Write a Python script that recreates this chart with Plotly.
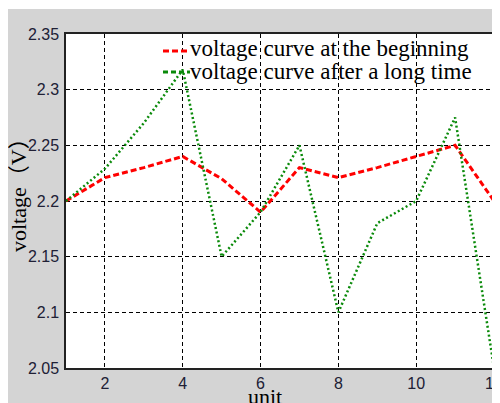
import plotly.graph_objects as go

units = [1, 2, 3, 4, 5, 6, 7, 8, 9, 10, 11, 12]
v_begin = [2.20, 2.221, 2.23, 2.24, 2.22, 2.19, 2.23, 2.221, 2.23, 2.24, 2.25, 2.20]
v_long = [2.20, 2.229, 2.27, 2.318, 2.15, 2.19, 2.25, 2.10, 2.18, 2.20, 2.275, 2.05]
names = ["voltage curve at the beginning", "voltage curve after a long time"]
x_ticks = [2, 4, 6, 8, 10, 12]
y_ticks = [2.05, 2.1, 2.15, 2.2, 2.25, 2.3, 2.35]
y_ticklabels = ["2.05", "2.1", "2.15", "2.2", "2.25", "2.3", "2.35"]

# page is shown with an 8px body margin, so the figure is sized to fit the window
OFF = 8
W, H = 500 - OFF, 403 - OFF
PL, PR, PT, PB = 66, 494, 34, 368  # plot box in window pixels
L, R, T, B = PL - OFF, W - (PR - OFF), PT - OFF, H - (PB - OFF)
pw, ph = PR - PL, PB - PT


def px(x):
    return (x - PL) / pw


def py(y):
    return (PB - y) / ph


fig = go.Figure()
fig.add_trace(go.Scatter(x=units, y=v_begin, mode="lines", name=names[0],
                         line=dict(color="#ff0000", width=3, dash="6px,3px")))
fig.add_trace(go.Scatter(x=units, y=v_long, mode="lines", name=names[1],
                         line=dict(color="#0a8a0a", width=2.5, dash="2px,2.5px")))

serif = "Liberation Serif, Times New Roman, Noto Sans CJK SC, serif"
tickfont = dict(family="Liberation Sans, Arial, sans-serif", size=16, color="#202035")

shapes = [
    dict(type="rect", xref="paper", yref="paper", x0=px(0), x1=px(520), y0=py(9), y1=py(420),
         fillcolor="#d4d4d4", line=dict(width=0), layer="below"),
    dict(type="rect", xref="paper", yref="paper", x0=0, x1=1, y0=0, y1=1,
         fillcolor="white", line=dict(width=0), layer="below"),
    dict(type="line", xref="paper", yref="paper", x0=px(163), x1=px(190), y0=py(51), y1=py(51),
         line=dict(color="#ff0000", width=3, dash="6px,3px")),
    dict(type="line", xref="paper", yref="paper", x0=px(163), x1=px(190), y0=py(72), y1=py(72),
         line=dict(color="#0a8a0a", width=3, dash="5px,3px")),
]

annotations = [
    dict(text=names[0], xref="paper", yref="paper", x=px(188), y=py(49), xanchor="left",
         yanchor="middle", showarrow=False, font=dict(family=serif, size=23, color="black")),
    dict(text=names[1], xref="paper", yref="paper", x=px(188), y=py(71), xanchor="left",
         yanchor="middle", showarrow=False, font=dict(family=serif, size=23, color="black")),
    dict(text="voltage（V）", xref="paper", yref="paper", x=px(18), y=py(190), xanchor="center",
         yanchor="middle", textangle=-90, showarrow=False,
         font=dict(family=serif, size=22, color="black")),
    dict(text="unit", xref="paper", yref="paper", x=px(265), y=py(382), xanchor="center",
         yanchor="top", showarrow=False, font=dict(family=serif, size=22, color="black")),
]

fig.update_layout(
    width=W, height=H,
    margin=dict(l=L, r=R, t=T, b=B, pad=0, autoexpand=False),
    paper_bgcolor="white", plot_bgcolor="rgba(0,0,0,0)",
    showlegend=False,
    shapes=shapes, annotations=annotations,
    xaxis=dict(range=[1, 12], tickvals=x_ticks, ticktext=[str(t) for t in x_ticks],
               showgrid=True, gridcolor="black", gridwidth=1, griddash="4px,3px",
               showline=True, linecolor="#222222", linewidth=1.5, mirror=True,
               ticks="", tickfont=tickfont, zeroline=False, ticklabelstandoff=0,
               ticklabeloverflow="allow", automargin=False),
    yaxis=dict(range=[2.05, 2.35], tickvals=y_ticks, ticktext=y_ticklabels,
               showgrid=True, gridcolor="black", gridwidth=1, griddash="4px,3px",
               showline=True, linecolor="#222222", linewidth=1.5, mirror=True,
               ticks="", tickfont=tickfont, zeroline=False, ticklabelstandoff=2,
               ticklabeloverflow="allow", automargin=False),
)

fig.write_html("out.html")
